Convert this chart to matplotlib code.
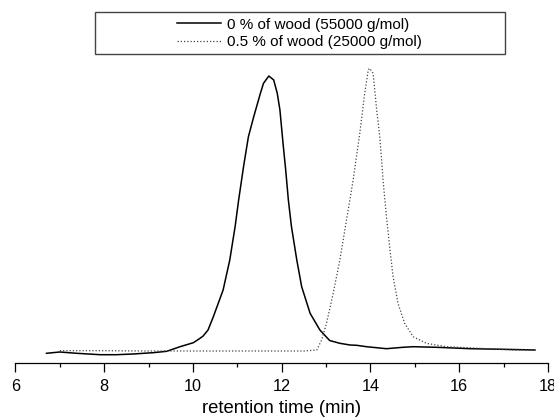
import matplotlib
matplotlib.use("Agg")
import matplotlib.pyplot as plt
from matplotlib.patches import Rectangle
from matplotlib.ticker import MultipleLocator

plt.rcParams['font.family'] = ['Liberation Sans', 'DejaVu Sans']

# 0 % of wood (55000 g/mol)
time_0 = [6.70, 7.00, 7.38, 7.91, 8.28, 8.65, 9.10, 9.41, 9.71, 10.01, 10.16, 10.23, 10.34,
          10.46, 10.68, 10.83, 10.95, 11.03, 11.14, 11.25, 11.37, 11.52, 11.59, 11.71,
          11.82, 11.90, 11.96, 12.03, 12.09, 12.15, 12.22, 12.34, 12.45, 12.64, 12.86,
          13.08, 13.31, 13.54, 13.69, 13.91, 14.36, 14.73, 14.96, 15.49, 16.25, 17.00, 17.70]
signal_0 = [0.097, 0.110, 0.097, 0.083, 0.083, 0.090, 0.103, 0.117, 0.163, 0.203, 0.247, 0.270, 0.330,
            0.463, 0.730, 1.030, 1.363, 1.630, 1.963, 2.263, 2.463, 2.697, 2.797, 2.870,
            2.830, 2.697, 2.530, 2.197, 1.930, 1.630, 1.363, 1.030, 0.763, 0.497, 0.330,
            0.225, 0.197, 0.180, 0.177, 0.163, 0.143, 0.157, 0.163, 0.157, 0.143, 0.137, 0.130]

# 0.5 % of wood (25000 g/mol)
time_05 = [7.00, 8.00, 9.00, 10.00, 11.00, 12.00, 12.50, 12.79, 12.90, 13.01, 13.16, 13.31,
           13.46, 13.61, 13.76, 13.87, 13.95, 13.98, 14.06, 14.14, 14.21, 14.29, 14.36, 14.44,
           14.51, 14.62, 14.77, 14.96, 15.26, 15.71, 16.46, 17.20, 17.74]
signal_05 = [0.123, 0.123, 0.120, 0.120, 0.120, 0.120, 0.120, 0.130, 0.230, 0.397, 0.697, 1.030,
             1.430, 1.830, 2.300, 2.697, 2.930, 2.947, 2.897, 2.530, 2.263, 1.797, 1.463, 1.130,
             0.863, 0.597, 0.397, 0.263, 0.197, 0.163, 0.147, 0.130, 0.130]

labels = ["0 % of wood (55000 g/mol)", "0.5 % of wood (25000 g/mol)"]
x_label = "retention time (min)"

W, H = 554, 418
fig = plt.figure(figsize=(W / 100, H / 100), dpi=100)
# axes: x from 15.4 px to 548 px, bottom at 363 px, top at 60 px
ax = fig.add_axes([15.4 / W, (H - 363) / H, (548 - 15.4) / W, (363 - 60) / H])

l1, = ax.plot(time_0, signal_0, color='black', lw=1.1, label=labels[0])
l2, = ax.plot(time_05, signal_05, color='#444444', lw=0.9, linestyle=(0, (1, 1.6)), label=labels[1])

ax.set_xlim(6, 18)
ax.set_ylim(0, 3.03)
ax.xaxis.set_major_locator(MultipleLocator(2))
ax.xaxis.set_minor_locator(MultipleLocator(1))
ax.tick_params(axis='x', which='major', direction='out', length=6.3, width=0.9, labelsize=11.7, pad=5)
ax.tick_params(axis='x', which='minor', direction='out', length=3.2, width=0.9)
ax.set_yticks([])
for s in ['left', 'right', 'top']:
    ax.spines[s].set_visible(False)
ax.spines['bottom'].set_linewidth(0.9)
ax.set_xlabel(x_label, fontsize=13.3, labelpad=4.5)

leg = fig.legend(handles=[l1, l2], labels=labels, loc='upper left',
                 bbox_to_anchor=(177 / W, 1 - 17.5 / H), frameon=False, fontsize=11,
                 borderpad=0, borderaxespad=0, handlelength=2.85, handletextpad=0.45,
                 labelspacing=0.25)

fig.patches.append(Rectangle((95 / W, 1 - 54 / H), (505 - 95) / W, (54 - 12) / H,
                             transform=fig.transFigure, fill=False,
                             edgecolor='#444444', lw=1.0))

fig.savefig("out.png", dpi=100)
